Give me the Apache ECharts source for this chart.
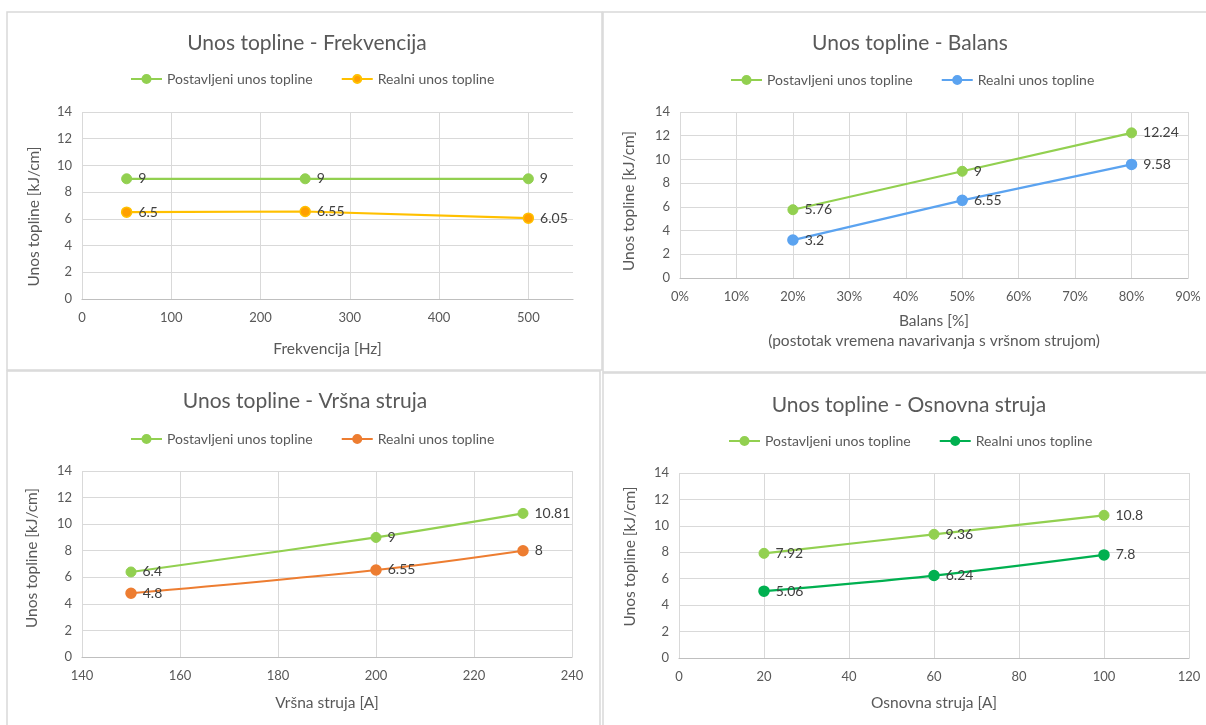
<!DOCTYPE html>
<html>
<head>
<meta charset="utf-8">
<script src="https://cdn.jsdelivr.net/npm/echarts@6/dist/echarts.min.js"></script>
<style>
html,body{margin:0;padding:0;background:#fff;}
#c{width:1206px;height:725px;}
</style>
</head>
<body>
<div id="c"></div>
<script>
// ---- data ----
const titles = ['Unos topline - Frekvencija', 'Unos topline - Balans', 'Unos topline - Vršna struja', 'Unos topline - Osnovna struja'];
const seriesNames = ['Postavljeni unos topline', 'Realni unos topline'];
const yAxisName = 'Unos topline [kJ/cm]';
const xAxisNames = ['Frekvencija [Hz]', 'Balans [%]\n(postotak vremena navarivanja s vršnom strujom)', 'Vršna struja [A]', 'Osnovna struja [A]'];

const frekX = [50, 250, 500];
const frekPostavljeni = [9, 9, 9];
const frekRealni = [6.5, 6.55, 6.05];

const balansX = [20, 50, 80];
const balansPostavljeni = [5.76, 9, 12.24];
const balansRealni = [3.2, 6.55, 9.58];

const vrsnaX = [150, 200, 230];
const vrsnaPostavljeni = [6.4, 9, 10.81];
const vrsnaRealni = [4.8, 6.55, 8];

const osnovnaX = [20, 60, 100];
const osnovnaPostavljeni = [7.92, 9.36, 10.8];
const osnovnaRealni = [5.06, 6.24, 7.8];

const xRanges = [[0, 550, 100], [0, 90, 10], [140, 240, 20], [0, 120, 20]];
const yRange = [0, 14, 2];

// ---- layout / styles ----
const FONT = 'Lato, "Liberation Sans", sans-serif';
const TXT = '#595959';
const GRID_C = '#D9D9D9';
const green = '#92D050';
const realColors = [
  {line: '#FFC000', fill: '#FFA000', border: '#FFC000'},
  {line: '#5BA3F0', fill: '#5BA3F0', border: '#5BA3F0'},
  {line: '#ED7D31', fill: '#ED7D31', border: '#ED7D31'},
  {line: '#00B050', fill: '#00B050', border: '#00B050'}
];
const smooth = [false, false, 0.35, 0.35];

const grids = [
  {left: 82, top: 112, width: 491, height: 187},
  {left: 680, top: 112, width: 508, height: 166},
  {left: 82, top: 471, width: 490, height: 186},
  {left: 679, top: 473, width: 510, height: 185}
];
const titlePos = [[302, 28], [905, 28], [300, 386], [904, 390]];
const legendPos = [[125, 67], [725, 68], [125, 427], [723, 429]];
const xNameGap = [41, 33, 37, 36];
const yNameGap = [40, 43, 42, 41];
const yNameShift = [22, 12, -12, -18];

const xs = [frekX, balansX, vrsnaX, osnovnaX];
const posts = [frekPostavljeni, balansPostavljeni, vrsnaPostavljeni, osnovnaPostavljeni];
const reals = [frekRealni, balansRealni, vrsnaRealni, osnovnaRealni];

const pair = (xa, ya) => xa.map((x, i) => [x, ya[i]]);
// unique series names per panel; the suffix is stripped for display
const uid = (n, i) => n + '#' + i;
const stripUid = (n) => n.replace(/#\d+$/, '');

const option = {
  backgroundColor: '#fff',
  animation: false,
  textStyle: {fontFamily: FONT},
  title: [], legend: [], grid: [], xAxis: [], yAxis: [], series: [],
  graphic: [
    {type: 'rect', shape: {x: 7, y: 12, width: 595, height: 358}, style: {fill: 'none', stroke: GRID_C, lineWidth: 1.5}, z: -1},
    {type: 'rect', shape: {x: 603, y: 12, width: 610, height: 360}, style: {fill: 'none', stroke: GRID_C, lineWidth: 1.5}, z: -1},
    {type: 'rect', shape: {x: 7, y: 371, width: 593, height: 370}, style: {fill: 'none', stroke: GRID_C, lineWidth: 1.5}, z: -1},
    {type: 'rect', shape: {x: 603, y: 373, width: 610, height: 370}, style: {fill: 'none', stroke: GRID_C, lineWidth: 1.5}, z: -1}
  ]
};

for (let i = 0; i < 4; i++) {
  option.title.push({
    text: titles[i], left: titlePos[i][0], top: titlePos[i][1], textAlign: 'center',
    textStyle: {fontFamily: FONT, fontSize: 21, fontWeight: 'normal', color: TXT}
  });
  option.legend.push({
    left: legendPos[i][0], top: legendPos[i][1], itemWidth: 31, itemHeight: 10, itemGap: 28,
    textStyle: {fontFamily: FONT, fontSize: 14, color: TXT},
    data: seriesNames.map((n) => ({name: uid(n, i)})),
    formatter: stripUid,
    selectedMode: false
  });
  option.grid.push(Object.assign({containLabel: false}, grids[i]));
  const xr = xRanges[i];
  option.xAxis.push({
    type: 'value', gridIndex: i, min: xr[0], max: xr[1], interval: xr[2],
    name: xAxisNames[i], nameLocation: 'middle', nameGap: xNameGap[i],
    nameTextStyle: {fontFamily: FONT, fontSize: 15.5, color: TXT, lineHeight: i === 1 ? 20 : 17},
    axisLine: {show: true, lineStyle: {color: '#BFBFBF', width: 1.2}},
    axisTick: {show: false},
    axisLabel: {fontFamily: FONT, fontSize: 13, color: TXT, margin: 12, showMaxLabel: i !== 0,
      formatter: i === 1 ? '{value}%' : '{value}'},
    splitLine: {show: true, showMaxLine: i !== 0, lineStyle: {color: GRID_C, width: 1}}
  });
  option.yAxis.push({
    type: 'value', gridIndex: i, min: yRange[0], max: yRange[1], interval: yRange[2],
    name: yAxisName, nameLocation: 'middle', nameGap: yNameGap[i],
    nameTextStyle: {fontFamily: FONT, fontSize: 15.5, color: TXT,
      padding: yNameShift[i] >= 0 ? [0, yNameShift[i], 0, 0] : [0, 0, 0, -yNameShift[i]]},
    axisLine: {show: false}, axisTick: {show: false},
    axisLabel: {fontFamily: FONT, fontSize: 13, color: TXT, margin: 10},
    splitLine: {show: true, lineStyle: {color: GRID_C, width: 1}}
  });
  const lbl = {show: true, position: 'right', distance: 6, fontFamily: FONT, fontSize: 14, color: '#404040',
    formatter: (p) => String(p.value[1])};
  option.series.push({
    name: uid(seriesNames[0], i), type: 'line', xAxisIndex: i, yAxisIndex: i,
    data: pair(xs[i], posts[i]), smooth: smooth[i],
    symbol: 'circle', symbolSize: 10,
    lineStyle: {color: green, width: 2.2},
    itemStyle: {color: green, borderColor: green, borderWidth: 1},
    label: lbl
  });
  option.series.push({
    name: uid(seriesNames[1], i), type: 'line', xAxisIndex: i, yAxisIndex: i,
    data: pair(xs[i], reals[i]), smooth: smooth[i],
    symbol: 'circle', symbolSize: 10,
    lineStyle: {color: realColors[i].line, width: 2.2},
    itemStyle: {color: realColors[i].fill, borderColor: realColors[i].border, borderWidth: 1.5},
    label: lbl
  });
}

const chart = echarts.init(document.getElementById('c'), null, {renderer: 'canvas'});
chart.setOption(option);
</script>
</body>
</html>
